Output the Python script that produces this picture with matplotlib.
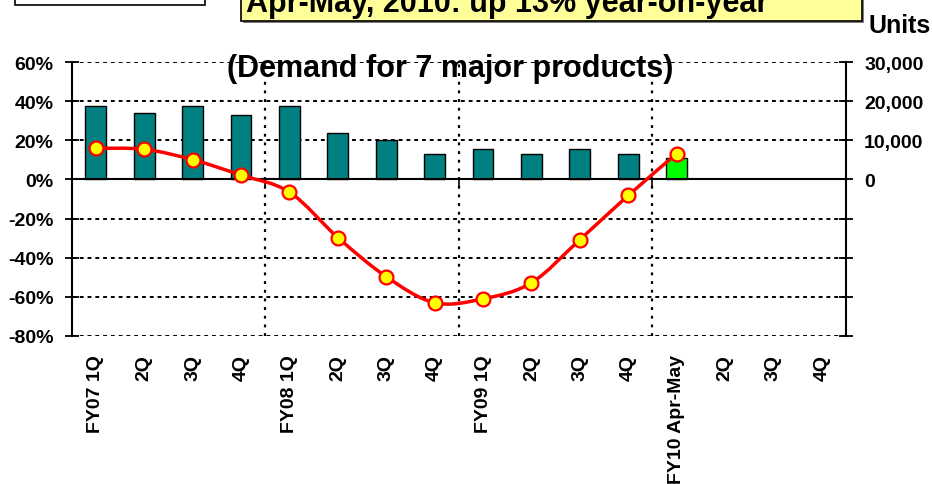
import numpy as np
import matplotlib
matplotlib.use("Agg")
import matplotlib.pyplot as plt
from matplotlib.patches import Rectangle, PathPatch
from matplotlib.path import Path

plt.rcParams["font.family"] = ["Liberation Sans", "DejaVu Sans"]
plt.rcParams["font.weight"] = "bold"

# ---- data ----
categories = ["FY07 1Q", "2Q", "3Q", "4Q",
              "FY08 1Q", "2Q", "3Q", "4Q",
              "FY09 1Q", "2Q", "3Q", "4Q",
              "FY10 Apr-May", "2Q", "3Q", "4Q"]
units = [18700, 16900, 18700, 16400,
         18700, 11800, 10000, 6400,
         7700, 6400, 7700, 6400,
         5400]
bar_colors = ["#008080"] * 12 + ["#00FF00"]
yoy_pct = [15.9, 15.4, 10.1, 2.2,
           -6.5, -29.7, -49.7, -63.0,
           -61.0, -52.8, -30.8, -8.2,
           13.2]
pct_ticks = [-80, -60, -40, -20, 0, 20, 40, 60]
unit_ticks = [-40000, -30000, -20000, -10000, 0, 10000, 20000, 30000]
fy_bounds = [3.5, 7.5, 11.5]

W, H = 932, 485
fig = plt.figure(figsize=(W / 100, H / 100), dpi=100, facecolor="white")
L, R, T, B = 71.7, 846, 63, 337
ax = fig.add_axes([L / W, 1 - B / H, (R - L) / W, (B - T) / H])
ax2 = ax.twinx()

# ---- bars (units, right axis) ----
ax2.bar(range(len(units)), units, width=0.43, color=bar_colors,
        edgecolor="black", linewidth=1, zorder=3)
ax2.set_ylim(-40000, 30000)
ax2.set_yticks(unit_ticks)
ax2.set_yticklabels([f"{v:,}" if v >= 0 else "" for v in unit_ticks], fontsize=14)
ax2.tick_params(axis="y", direction="inout", length=10, width=1.3, pad=8)
ax2.set_axisbelow(True)
ax2.grid(axis="y", color="black", linestyle=(0, (2, 2)), linewidth=1.4)
for b in fy_bounds:
    ax2.axvline(b, color="black", linestyle=(0, (1.3, 2.6)), linewidth=1.6, zorder=1)
for s in ["top", "bottom", "left"]:
    ax2.spines[s].set_visible(False)
ax2.spines["right"].set_linewidth(1.5)

# ---- line (yoy %, left axis), smoothed like excel ----
ax.set_zorder(ax2.get_zorder() + 1)
ax.patch.set_visible(False)
ax.set_xlim(-0.5, len(categories) - 0.5)
ax.set_ylim(-80, 60)
ax.set_yticks(pct_ticks)
ax.set_yticklabels([f"{v}%" for v in pct_ticks], fontsize=14)
ax.tick_params(axis="y", direction="inout", length=10, width=1.3, pad=8)

pts = np.column_stack([np.arange(len(yoy_pct)), yoy_pct]).astype(float)
verts, codes = [pts[0]], [Path.MOVETO]
for i in range(len(pts) - 1):
    p0 = pts[max(i - 1, 0)]
    p1, p2 = pts[i], pts[i + 1]
    p3 = pts[min(i + 2, len(pts) - 1)]
    verts += [p1 + (p2 - p0) / 6, p2 - (p3 - p1) / 6, p2]
    codes += [Path.CURVE4] * 3
ax.add_patch(PathPatch(Path(verts, codes), fill=False, edgecolor="#FF0000",
                       linewidth=2.5, zorder=3))
ax.plot(range(len(yoy_pct)), yoy_pct, "o", ms=10, mfc="#FFFF00", mec="#FF0000",
        mew=1.6, zorder=4)

# x axis drawn at 0 with ticks at fiscal-year boundaries
ax.spines["bottom"].set_position(("data", 0))
ax.spines["bottom"].set_linewidth(1.5)
ax.spines["left"].set_linewidth(1.5)
ax.spines["top"].set_visible(False)
ax.spines["right"].set_visible(False)
ax.set_xticks([])
ax.set_xticks(fy_bounds, minor=True)
ax.tick_params(axis="x", which="minor", direction="out", length=5, width=1.2)

sec = ax.secondary_xaxis("bottom")
sec.set_xticks(range(len(categories)))
sec.set_xticklabels(categories, rotation=90, fontsize=14)
sec.tick_params(length=0, pad=13)
sec.spines["bottom"].set_visible(False)

# ---- texts and boxes ----
fig.text(450 / W, 1 - 77 / H, "(Demand for 7 major products)", ha="center",
         va="baseline", fontsize=22, fontweight="bold")
fig.text(868 / W, 1 - 33 / H, "Units", ha="left", va="baseline",
         fontsize=18, fontweight="bold")

fig.patches.append(Rectangle((15 / W, 1 - 5.7 / H), 190 / W, 0.1,
                             transform=fig.transFigure, facecolor="white",
                             edgecolor="black", linewidth=1.2))
fig.patches.append(Rectangle((243 / W, 1 - 23.5 / H), 621 / W, 0.1,
                             transform=fig.transFigure, facecolor="#808080",
                             edgecolor="none"))
fig.patches.append(Rectangle((241 / W, 1 - 21.7 / H), 621 / W, 0.1,
                             transform=fig.transFigure, facecolor="#FFFF99",
                             edgecolor="black", linewidth=1.2))
fig.text(246 / W, 1 - 12 / H, "Apr-May, 2010: up 13% year-on-year", ha="left",
         va="baseline", fontsize=22, fontweight="bold")

fig.savefig("out.png", dpi=100, facecolor="white")
